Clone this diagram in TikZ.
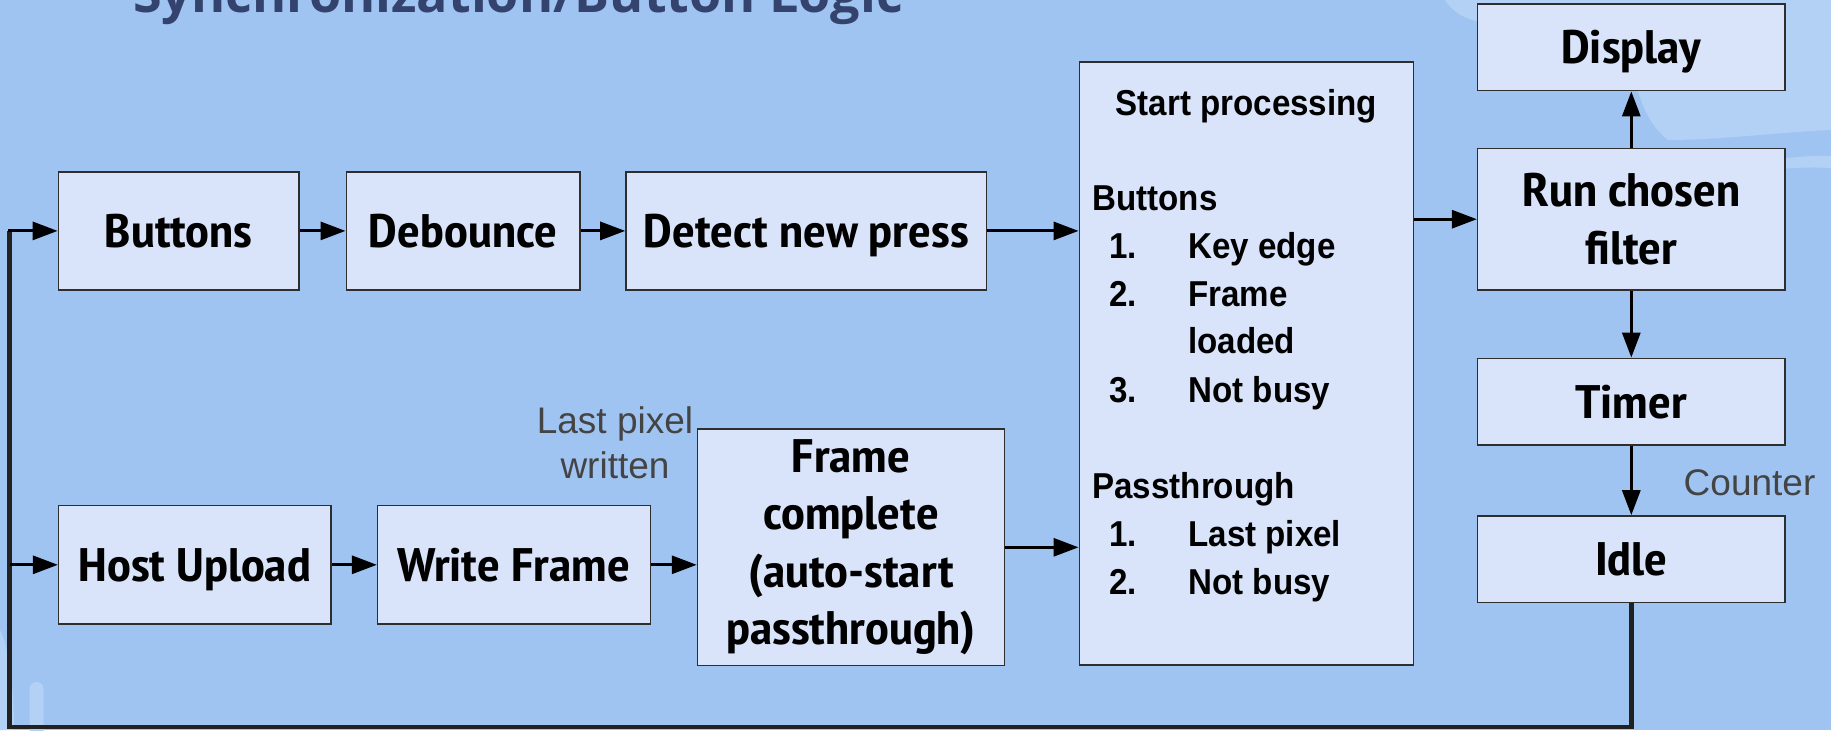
\documentclass[tikz,border=0pt]{standalone}
\usepackage{fontspec}
\usepackage{graphicx}
\usetikzlibrary{arrows.meta}
\setmainfont{Liberation Sans}
\IfFontExistsTF{PT Sans Narrow}{\newfontfamily\boxfont[FakeStretch=1.14]{PT Sans Narrow}}{\newfontfamily\boxfont[FakeStretch=0.85]{Liberation Sans}}
\newfontfamily\startfont[FakeStretch=0.92]{Liberation Sans}
\newfontfamily\titlefont{Open Sans}
\definecolor{bg}{HTML}{A0C4F2}
\definecolor{blobc}{HTML}{B2D1F5}
\definecolor{boxfill}{HTML}{D9E4FA}
\definecolor{boxline}{HTML}{2E2E2E}
\definecolor{titlec}{HTML}{34426E}
\definecolor{labelc}{HTML}{444444}
\begin{document}
\begin{tikzpicture}[x=0.5pt,y=-0.5pt,
  blk/.style={draw=boxline, line width=0.75pt, fill=boxfill, inner sep=0pt, align=center,
    font=\boxfont\bfseries\fontsize{23.5pt}{28.75pt}\selectfont},
  one/.style={text height=16.45pt, text depth=0pt},
  arr/.style={draw=black, line width=1.5pt, -{Triangle[length=12.5pt,width=9pt]}},
  fb/.style={draw=black!87, line width=2.2pt},
  lbl/.style={text=labelc, font=\fontsize{18.5pt}{22.5pt}\selectfont, inner sep=0pt, anchor=base},
  sp/.style={font=\startfont\bfseries\fontsize{18pt}{22pt}\selectfont, inner sep=0pt, anchor=base west},
  blob/.style={fill=blobc, draw=none}
]
\useasboundingbox (0,0) rectangle (1831,730);
\fill[bg] (0,0) rectangle (1831,730);
% decorative light shapes
\fill[blob] (1445,0) .. controls (1455,15) and (1470,22) .. (1495,24) -- (1615,40)
  .. controls (1638,60) and (1632,112) .. (1668,140)
  .. controls (1720,140) and (1780,132) .. (1831,130) -- (1831,0) -- cycle;
\fill[blob] (1720,172) .. controls (1760,160) and (1800,155) .. (1831,156) -- (1831,168)
  .. controls (1800,166) and (1760,170) .. (1720,176) -- cycle;
\fill[blob] (0,630) .. controls (10,650) and (14,690) .. (14,730) -- (0,730) -- cycle;
\fill[blob, rounded corners=3.5pt] (29.5,745) rectangle (43.5,682);
% title (mostly cut off at the top, as in the reference)
\node[anchor=base west, inner sep=0pt, text=titlec] (title) at (132.7,12.7)
  {\resizebox{385pt}{\height}{\titlefont\bfseries\fontsize{25.5pt}{30pt}\selectfont Synchronization/Button Logic}};
% boxes
\node[blk, one, minimum width=120.3pt, minimum height=59.15pt] (btn) at (178.7,230.9) {Buttons};
\node[blk, one, minimum width=116.75pt, minimum height=59.15pt] (deb) at (463,230.9) {Debounce};
\node[blk, one, minimum width=180.35pt, minimum height=59.15pt] (det) at (806.3,230.9) {Detect new press};
\node[blk, minimum width=167.1pt, minimum height=301.5pt] (start) at (1246.4,363.4) {};
\node[blk, one, minimum width=153.65pt, minimum height=43.35pt] (disp) at (1631.3,47.3) {Display};
\node[blk, minimum width=153.65pt, minimum height=70.85pt] (rcf) at (1631.3,219.2) {Run chosen\\filter};
\node[blk, one, minimum width=153.65pt, minimum height=43.35pt] (timer) at (1631.3,401.7) {Timer};
\node[blk, one, minimum width=153.65pt, minimum height=43.35pt] (idle) at (1631.3,559.3) {Idle};
\node[blk, one, minimum width=136.15pt, minimum height=59.15pt] (host) at (194.8,564.8) {Host Upload};
\node[blk, one, minimum width=136.35pt, minimum height=59.15pt] (wf) at (514,564.8) {Write Frame};
\node[blk, minimum width=153.5pt, minimum height=118.35pt] (fc) at (851,547.3) {Frame\\complete\\(auto-start\\passthrough)};
% start processing text
\node[sp, anchor=base] (sp0) at (1246.4,115.2) {Start processing};
\node[sp] (sp1) at (1092,210.1) {Buttons};
\node[sp, anchor=base east] (n1) at (1137.3,258.4) {1.};
\node[sp] (t1) at (1188,258.4) {Key edge};
\node[sp, anchor=base east] (n2) at (1137.3,306.2) {2.};
\node[sp] (t2) at (1188,306.2) {Frame};
\node[sp] (t2b) at (1188,353.7) {loaded};
\node[sp, anchor=base east] (n3) at (1137.3,402) {3.};
\node[sp] (t3) at (1188,402) {Not busy};
\node[sp] (sp2) at (1092,498.8) {Passthrough};
\node[sp, anchor=base east] (m1) at (1137.3,546.2) {1.};
\node[sp] (u1) at (1188,546.2) {Last pixel};
\node[sp, anchor=base east] (m2) at (1137.3,594.9) {2.};
\node[sp] (u2) at (1188,594.9) {Not busy};
% labels
\node[lbl] (lp1) at (615,433.3) {Last pixel};
\node[lbl] (lp2) at (615,478.3) {written};
\node[lbl, anchor=base west] (cnt) at (1683.3,495) {Counter};
% connectors
\draw[arr] (btn) -- (deb);
\draw[arr] (deb) -- (det);
\draw[arr] (det.east) -- (det.east -| start.west);
\draw[arr] (start.east |- rcf.west) -- (rcf.west);
\draw[arr] (rcf) -- (disp);
\draw[arr] (rcf) -- (timer);
\draw[arr] (timer) -- (idle);
\draw[arr] (host) -- (wf);
\draw[arr] (wf.east) -- (wf.east -| fc.west);
\draw[arr] (fc.east) -- (fc.east -| start.west);
\coordinate (fbR) at (1631.3,727);
\coordinate (fbL) at (9.5,727);
\draw[fb, line join=miter] (idle.south) -- (fbR) -- (fbL) -- (fbL |- btn.west);
\draw[arr] ([xshift=-0.75pt]fbL |- btn.west) -- (btn.west);
\draw[arr] (fbL |- host.west) -- (host.west);
\end{tikzpicture}
\end{document}
